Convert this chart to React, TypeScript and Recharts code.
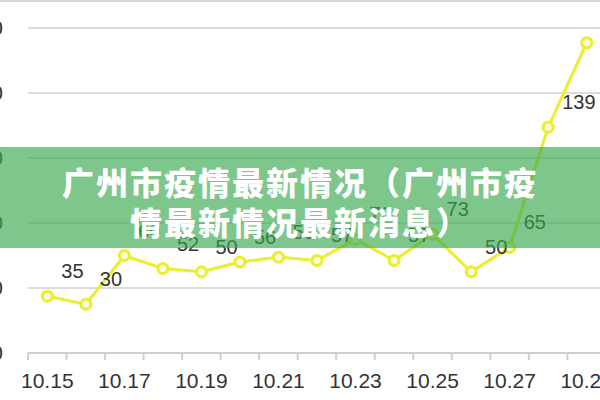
import { LineChart, Line, XAxis, YAxis, CartesianGrid, LabelList } from 'recharts';

const dates = [
  '10.15', '10.16', '10.17', '10.18', '10.19', '10.20', '10.21', '10.22',
  '10.23', '10.24', '10.25', '10.26', '10.27', '10.28', '10.29',
];
const cases = [35, 30, 60, 52, 50, 56, 59, 57, 70, 57, 73, 50, 65, 139, 191];
const yTicks = [0, 40, 80, 120, 160, 200];
const titleLines = ['广州市疫情最新情况（广州市疫', '情最新情况最新消息）'];

const data = dates.map((d, i) => ({ date: d, value: cases[i] }));

const YELLOW = '#ebee2c';
const HALF_STEP = 19.3;

// tick mark sits between categories, label on every other one
const XTick = (props: any) => {
  const { x, y, payload } = props;
  const idx = props.index ?? payload.index;
  return (
    <g>
      <line x1={x - HALF_STEP} x2={x - HALF_STEP} y1={y} y2={y + 7} stroke="#cfcfcf" strokeWidth={2} />
      {idx % 2 === 0 && (
        <text x={x} y={y + 27} textAnchor="middle" dominantBaseline="central" fontSize={21} fill="#333">
          {payload.value}
        </text>
      )}
    </g>
  );
};

const ValueLabel = (props: any) => {
  const { x, y, value } = props;
  return (
    <text x={x + 14} y={y - 25} textAnchor="start" dominantBaseline="central" fontSize={20} fill="#333">
      {value}
    </text>
  );
};

export default function App() {
  return (
    <div
      style={{
        position: 'fixed',
        left: 0,
        top: 0,
        width: 600,
        height: 400,
        overflow: 'hidden',
        background: '#fff',
        fontFamily: '"Liberation Sans", Arial, sans-serif',
      }}
    >
      <div style={{ position: 'absolute', left: 0, top: 0, width: 600, height: 2, background: '#d9d9d9' }} />
      <div style={{ position: 'absolute', left: -40, top: 0 }}>
        <LineChart width={660} height={400} data={data} margin={{ top: 28, right: 14, bottom: 7, left: 0 }}>
          <CartesianGrid vertical={false} stroke="#dcdcdc" strokeWidth={2} />
          <XAxis
            dataKey="date"
            interval={0}
            height={40}
            padding={{ left: HALF_STEP, right: HALF_STEP }}
            tickSize={0}
            tickMargin={0}
            tickLine={false}
            axisLine={{ stroke: '#cfcfcf', strokeWidth: 2 }}
            tick={<XTick />}
          />
          <YAxis
            width={68}
            domain={[0, 200]}
            ticks={yTicks}
            tickSize={0}
            tickMargin={25}
            tickLine={false}
            axisLine={false}
            tick={{ fill: '#333', fontSize: 21 }}
          />
          <Line
            type="linear"
            dataKey="value"
            stroke={YELLOW}
            strokeWidth={3}
            dot={{ r: 5, stroke: YELLOW, strokeWidth: 3, fill: '#fbfbe2' }}
            isAnimationActive={false}
          >
            <LabelList dataKey="value" content={<ValueLabel />} />
          </Line>
        </LineChart>
      </div>
      <div
        style={{
          position: 'absolute',
          left: 0,
          top: 147,
          width: 600,
          height: 101,
          background: 'rgba(56, 168, 78, 0.65)',
        }}
      >
        {titleLines.map((t, i) => (
          <div
            key={i}
            style={{
              position: 'absolute',
              left: 0,
              width: 600,
              top: 14 + i * 40,
              lineHeight: '40px',
              textAlign: 'center',
              color: '#fff',
              fontSize: 32,
              fontWeight: 900,
              letterSpacing: 2,
              fontFamily: '"Noto Sans CJK SC", sans-serif',
            }}
          >
            {t}
          </div>
        ))}
      </div>
    </div>
  );
}
